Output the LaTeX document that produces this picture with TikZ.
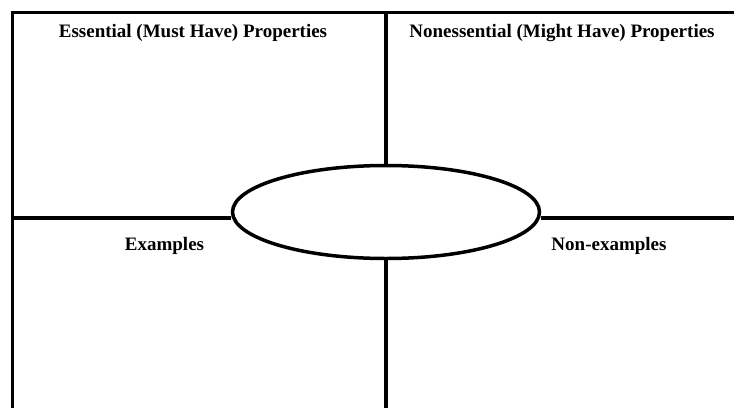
\documentclass[tikz,border=0pt]{standalone}
\usepackage{fontspec}
\setmainfont{Liberation Serif}
\usetikzlibrary{shapes.geometric}
\begin{document}
\begin{tikzpicture}[x=0.5pt,y=-0.5pt,
    frame/.style={line width=1.75pt},
    head/.style={font=\fontsize{9.5}{11}\selectfont\bfseries, anchor=base, inner sep=0pt}]
  \useasboundingbox (0,0) rectangle (734,408);
  \path
    (12.5,12.5) coordinate (tl)
    (734,12.5) coordinate (tr)
    (12.5,408) coordinate (bl)
    (12.5,218) coordinate (ml)
    (734,218) coordinate (mr)
    (386,12.5) coordinate (mt)
    (386,408) coordinate (mb);
  \node[frame, draw, ellipse, inner sep=0pt,
    minimum width=153.5pt, minimum height=46.5pt] (term) at (386,212) {};
  \path
    (193,37) node[head] (ess){Essential (Must Have) Properties}
    (562,37) node[head] (noness){Nonessential (Might Have) Properties}
    (164.5,250) node[head] (ex){Examples}
    (609,250) node[head] (nonex){Non-examples};
  \begin{scope}[frame]
    \draw (bl) -- (tl) -- (tr);
    \draw (mt) -- (term.north);
    \draw (term.south) -- (mb);
    \draw (ml) -- (term.west |- ml);
    \draw (term.east |- mr) -- (mr);
  \end{scope}
\end{tikzpicture}
\end{document}
